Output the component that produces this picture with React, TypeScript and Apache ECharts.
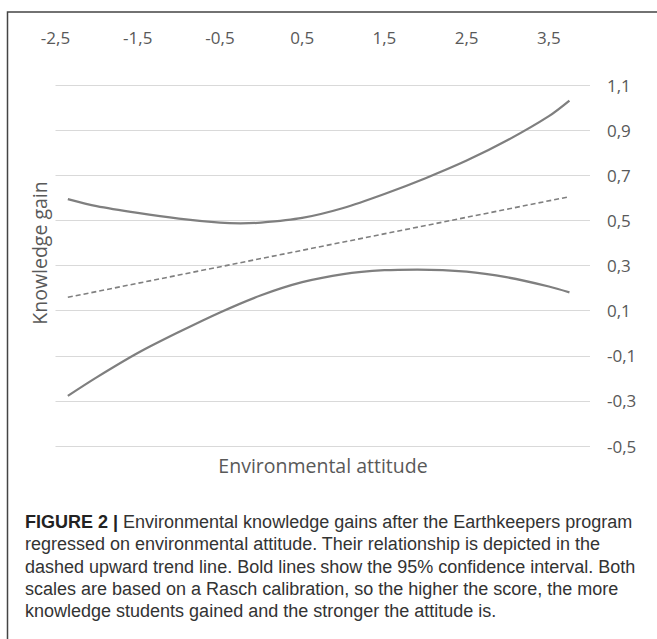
import React, { useEffect, useRef } from "react";
import * as echarts from "echarts";

// x tick labels (top axis) and y tick labels (right axis)
const xTicks = [-2.5, -1.5, -0.5, 0.5, 1.5, 2.5, 3.5];
const yTicks = [-0.5, -0.3, -0.1, 0.1, 0.3, 0.5, 0.7, 0.9, 1.1];

// Upper 95% confidence bound: attitude (x) and knowledge gain (y)
const upperX = [-2.35, -2.0, -1.5, -1.0, -0.5, -0.25, 0.0, 0.5, 1.0, 1.5, 2.0, 2.5, 3.0, 3.5, 3.75];
const upperCI = [0.594, 0.563, 0.533, 0.508, 0.490, 0.487, 0.490, 0.511, 0.555, 0.617, 0.687, 0.765, 0.856, 0.962, 1.031];
// Lower 95% confidence bound
const lowerX = [-2.35, -2.0, -1.5, -1.0, -0.5, 0.0, 0.5, 1.0, 1.5, 1.9, 2.5, 3.0, 3.5, 3.75];
const lowerCI = [-0.278, -0.196, -0.088, 0.005, 0.092, 0.168, 0.226, 0.262, 0.279, 0.282, 0.273, 0.247, 0.207, 0.181];
// Regression trend line (dashed)
const trendX = [-2.35, 3.75];
const trendY = [0.159, 0.605];

const captionLines = [
  "{b|FIGURE 2 |} Environmental knowledge gains after the Earthkeepers program",
  "regressed on environmental attitude. Their relationship is depicted in the",
  "dashed upward trend line. Bold lines show the 95% confidence interval. Both",
  "scales are based on a Rasch calibration, so the higher the score, the more",
  "knowledge students gained and the stronger the attitude is.",
];

const fmt = (v: number) => v.toFixed(1).replace(".", ",");

export default function App() {
  const ref = useRef<HTMLDivElement>(null);
  useEffect(() => {
    if (!ref.current) return;
    const chart = echarts.init(ref.current, null, { renderer: "svg" });
    const labelFont = "'Open Sans', sans-serif";
    const captionFont = "'Liberation Sans', Arial, sans-serif";
    chart.setOption({
      animation: false,
      backgroundColor: "#ffffff",
      grid: { left: 55.5, right: 67, top: 85, bottom: 193, containLabel: false },
      xAxis: {
        type: "value",
        position: "top",
        min: xTicks[0],
        max: 4.0,
        interval: 1,
        axisLine: { show: false },
        axisTick: { show: false },
        splitLine: { show: false },
        axisLabel: {
          showMaxLabel: false,
          margin: 48,
          verticalAlign: "middle",
          color: "#595959",
          fontSize: 17,
          fontFamily: labelFont,
          formatter: (v: number) => (xTicks.some((t) => Math.abs(t - v) < 1e-6) ? fmt(v) : ""),
        },
      },
      yAxis: {
        type: "value",
        position: "right",
        min: yTicks[0],
        max: yTicks[yTicks.length - 1],
        interval: 0.2,
        axisLine: { show: false },
        axisTick: { show: false },
        splitLine: { show: true, lineStyle: { color: "#d9d9d9", width: 1 } },
        axisLabel: {
          margin: 17,
          color: "#595959",
          fontSize: 17,
          fontFamily: labelFont,
          formatter: (v: number) => fmt(v),
        },
      },
      series: [
        {
          type: "line",
          name: "Upper",
          data: upperX.map((x, i) => [x, upperCI[i]]),
          smooth: 0.3,
          showSymbol: false,
          lineStyle: { color: "#7f7f7f", width: 2.25 },
        },
        {
          type: "line",
          name: "Lower",
          data: lowerX.map((x, i) => [x, lowerCI[i]]),
          smooth: 0.3,
          showSymbol: false,
          lineStyle: { color: "#7f7f7f", width: 2.25 },
        },
        {
          type: "line",
          name: "Trend",
          data: trendX.map((x, i) => [x, trendY[i]]),
          showSymbol: false,
          lineStyle: { color: "#7f7f7f", width: 1.6, type: [5, 3] },
        },
      ],
      graphic: [
        {
          type: "rect",
          shape: { x: 7.5, y: 12, width: 800, height: 800 },
          style: { fill: "none", stroke: "#444444", lineWidth: 1.5 },
          silent: true,
        },
        {
          type: "text",
          x: 39,
          y: 253,
          rotation: Math.PI / 2,
          style: {
            text: "Knowledge gain",
            fontSize: 19.5,
            fontFamily: labelFont,
            fill: "#595959",
            align: "center",
            verticalAlign: "middle",
          },
        },
        {
          type: "text",
          x: 323,
          y: 465,
          style: {
            text: "Environmental attitude",
            fontSize: 19.5,
            fontFamily: labelFont,
            fill: "#595959",
            align: "center",
            verticalAlign: "middle",
          },
        },
        ...captionLines.map((line, i) => ({
          type: "text",
          x: 25,
          y: 522 + i * 22.3,
          style: {
            text: line,
            fontSize: 18,
            fontFamily: captionFont,
            fill: "#333333",
            align: "left",
            verticalAlign: "middle",
            rich: {
              b: { fontWeight: "bold", fontSize: 18, fontFamily: captionFont, fill: "#222222" },
            },
          },
        })),
      ],
    });
    return () => chart.dispose();
  }, []);
  return (
    <div
      ref={ref}
      style={{ position: "absolute", left: 0, top: 0, width: 657, height: 639 }}
    />
  );
}
